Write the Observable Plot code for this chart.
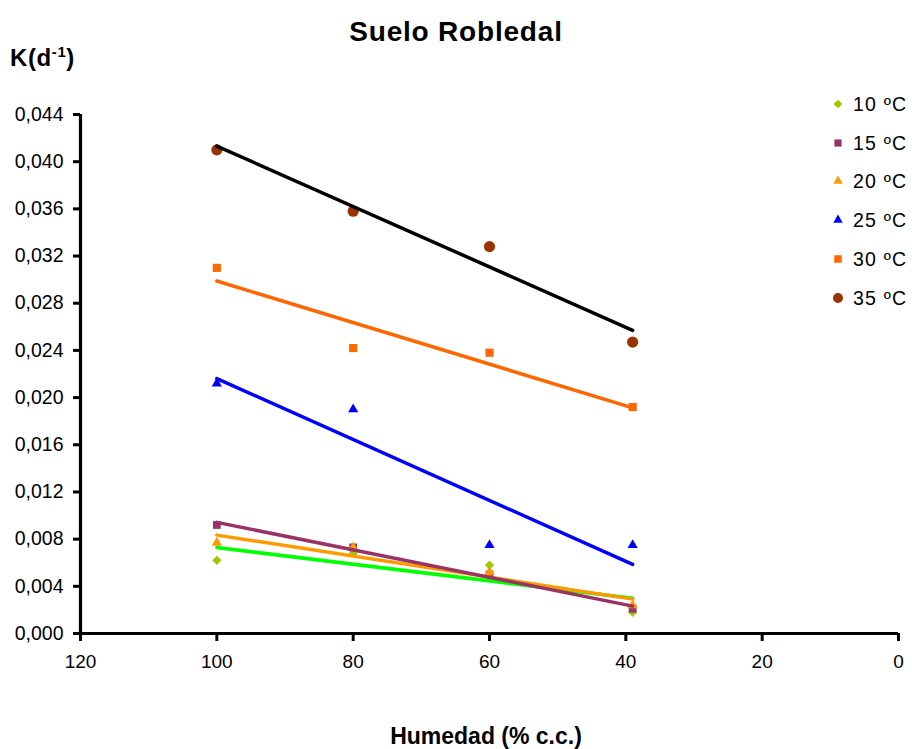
<!DOCTYPE html>
<html>
<head>
<meta charset="utf-8">
<script src="https://cdn.jsdelivr.net/npm/d3@7"></script>
<script src="https://cdn.jsdelivr.net/npm/@observablehq/plot@0.6"></script>
<style>
  html, body { margin: 0; padding: 0; background: #fff; }
  #wrap { position: relative; width: 912px; height: 749px; font-family: "Liberation Sans", Arial, sans-serif; color: #000; }
  #wrap svg.plot { position: absolute; left: 0; top: 0; }
  .abs { position: absolute; white-space: nowrap; }
</style>
</head>
<body>
<div id="wrap"></div>
<script>
// ---- data ----
const humedad = [100, 80, 60, 39];
const k10 = [0.0062, 0.0068, 0.0058, 0.0018];
const k15 = [0.0092, 0.0073, 0.0050, 0.0021];
const k20 = [0.0077, 0.0073, 0.0052, 0.0024];
const k25 = [0.0212, 0.0190, 0.0075, 0.0075];
const k30 = [0.0310, 0.0242, 0.0238, 0.0192];
const k35 = [0.0410, 0.0358, 0.0328, 0.0247];
const seriesNames = ["10 ºC", "15 ºC", "20 ºC", "25 ºC", "30 ºC", "35 ºC"];
const xTicks = [120, 100, 80, 60, 40, 20, 0];
const yTicks = [0, 0.004, 0.008, 0.012, 0.016, 0.020, 0.024, 0.028, 0.032, 0.036, 0.040, 0.044];
const title = "Suelo Robledal";
const xTitle = "Humedad (% c.c.)";

// ---- styles ----
const seriesValues = [k10, k15, k20, k25, k30, k35];
const markerColors = ["#99CC00", "#993366", "#FF9900", "#0000FF", "#FF6600", "#993300"];
const lineColors = ["#00FF00", "#993366", "#FF9900", "#0000FF", "#FF6600", "#000000"];
const symbols = ["diamond2", "square", "triangle", "triangle", "square", "circle"];
const radii = [4.2, 4.4, 3.8, 3.8, 4.6, 5.6];
const lineOrder = [0, 2, 1, 3, 4, 5];

const tables = seriesValues.map((vals, i) =>
  humedad.map((h, j) => ({h, k: vals[j], serie: seriesNames[i]})));

const fmt = d => d.toFixed(3).replace(".", ",");

const marks = [];
tables.forEach((t, i) => {
  marks.push(Plot.dot(t, {x: "h", y: "k", symbol: () => symbols[i], r: radii[i], fill: markerColors[i], stroke: "none"}));
});
lineOrder.forEach(i => {
  marks.push(Plot.linearRegressionY(tables[i], {x: "h", y: "k", stroke: lineColors[i], strokeWidth: 3.5, ci: 0}));
});
const xDom = [120, 0];
const yDom = [0, 0.044];
marks.push(
  Plot.ruleX([xDom[0]], {stroke: "#000", strokeWidth: 3.2}),
  Plot.ruleY([yDom[0]], {stroke: "#000", strokeWidth: 3.2}),
  Plot.axisY({ticks: yTicks, tickFormat: fmt, tickSize: 7, tickPadding: 10, fontSize: 19.5, stroke: "#000", strokeWidth: 3, label: null, style: {letterSpacing: "1.2px"}}),
  Plot.axisX({ticks: xTicks, tickFormat: d => String(d), tickSize: 8, tickPadding: 13, fontSize: 19, stroke: "#000", strokeWidth: 3, label: null})
);

const chart = Plot.plot({
  width: 912,
  height: 749,
  marginLeft: 80,
  marginRight: 14,
  marginTop: 114,
  marginBottom: 116,
  style: {fontFamily: '"Liberation Sans", Arial, sans-serif', color: "#000", background: "#fff"},
  x: {domain: xDom},
  y: {domain: yDom},
  symbol: {type: "identity"},
  marks
});
chart.classList.add("plot");
const wrap = document.getElementById("wrap");
wrap.appendChild(chart);

function addText(txt, css) {
  const d = document.createElement("div");
  d.className = "abs";
  d.textContent = txt;
  Object.assign(d.style, css);
  wrap.appendChild(d);
  return d;
}
// title
addText(title, {left: "0px", width: "912px", textAlign: "center", top: "16px", fontSize: "28px", fontWeight: "bold", letterSpacing: "0.8px"});
// y label K(d-1)
const kl = document.createElement("div");
kl.className = "abs";
Object.assign(kl.style, {left: "10px", top: "43px", fontSize: "24px", fontWeight: "bold", letterSpacing: "0.6px"});
kl.innerHTML = 'K(d<sup style="font-size:15px;vertical-align:9px">-1</sup>)';
wrap.appendChild(kl);
// x title
addText(xTitle, {left: "0px", width: "972px", textAlign: "center", top: "723px", fontSize: "23px", fontWeight: "bold"});

// legend
const rowY = [104, 143, 181, 220, 259, 298];
seriesNames.forEach((name, i) => {
  const s = document.createElementNS("http://www.w3.org/2000/svg", "svg");
  s.setAttribute("width", 16); s.setAttribute("height", 16);
  s.style.position = "absolute";
  s.style.left = (838 - 8) + "px";
  s.style.top = (rowY[i] - 8) + "px";
  const symMap = {diamond2: d3.symbolDiamond2, square: d3.symbolSquare, triangle: d3.symbolTriangle, circle: d3.symbolCircle};
  const p = document.createElementNS("http://www.w3.org/2000/svg", "path");
  p.setAttribute("d", d3.symbol(symMap[symbols[i]], Math.PI * radii[i] * radii[i] * (symbols[i] === "circle" ? 0.8 : 0.85))());
  p.setAttribute("transform", "translate(8,8)");
  p.setAttribute("fill", markerColors[i]);
  s.appendChild(p);
  wrap.appendChild(s);
  addText(name, {left: "853px", top: (rowY[i] - 11) + "px", fontSize: "19.5px", lineHeight: "22px", letterSpacing: "1.2px"});
});
</script>
</body>
</html>
